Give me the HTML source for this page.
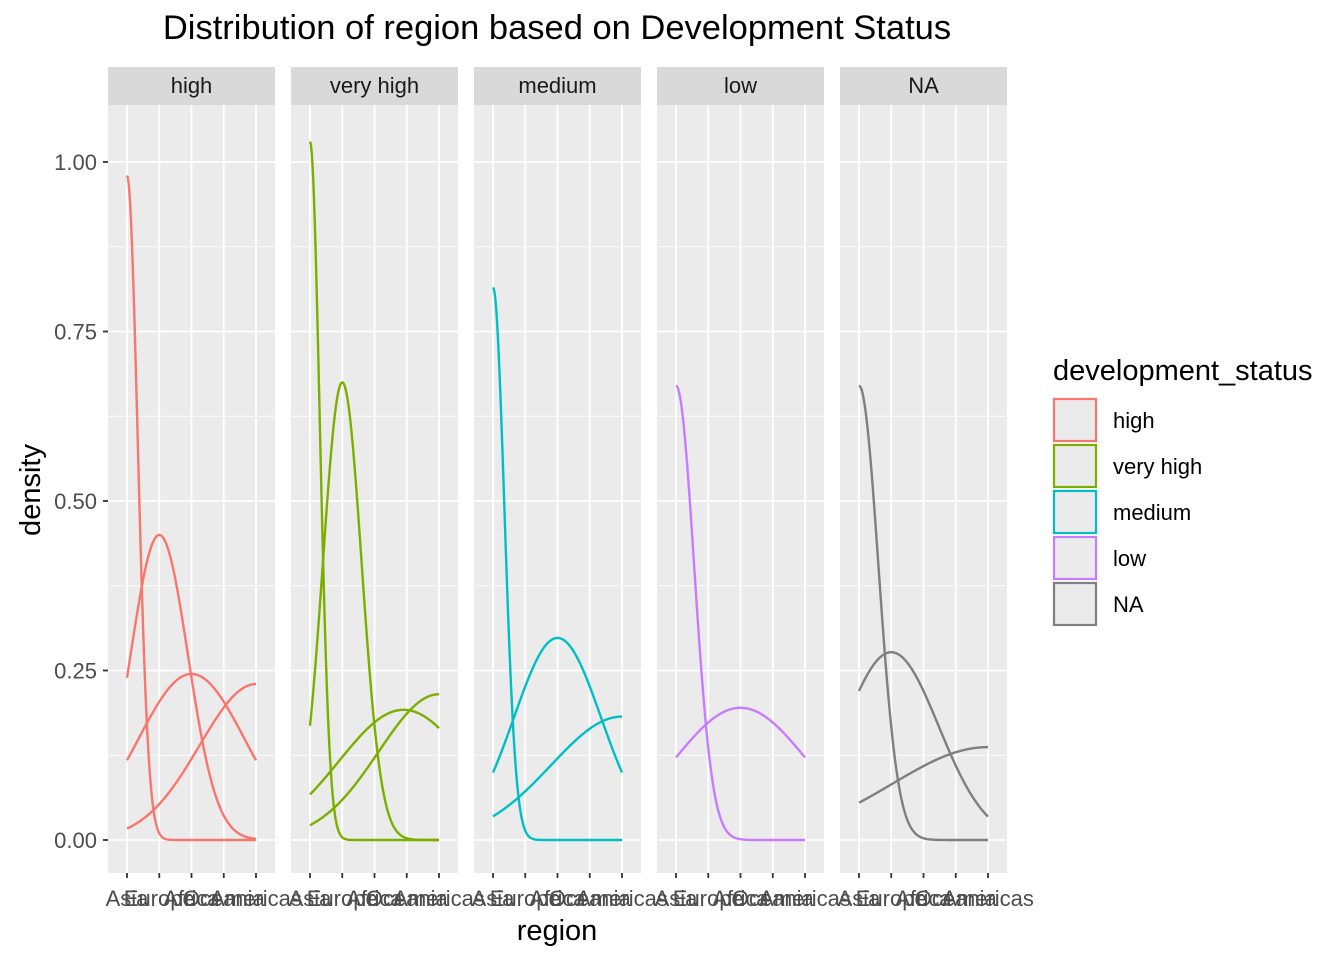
<!DOCTYPE html>
<html><head><meta charset="utf-8"><style>
body{margin:0;background:#fff;}
svg{display:block;font-family:"Liberation Sans",Arial,sans-serif;}
</style></head><body>
<svg id="chart" width="1344" height="960">
<text x="557" y="39" font-size="34.5" text-anchor="middle" fill="#000">Distribution of region based on Development Status</text>
<text x="557" y="940" font-size="29" text-anchor="middle" fill="#000">region</text>
<text transform="translate(40,490) rotate(-90)" font-size="29" text-anchor="middle" fill="#000">density</text>
<text x="1053" y="380" font-size="29" fill="#000">development_status</text>
<g id="legend"></g>
<g id="panels"></g>
<g id="yaxis"></g>
</svg>
<script>
const regions = ["Asia","Europe","Africa","Oceania","Americas"];
const facets = ["high","very high","medium","low","NA"];
const colors = ["#F8766D","#7CAE00","#00BFC4","#C77CFF","#7F7F7F"];
const yTicks = [0,0.25,0.5,0.75,1.0];
const yTickLabels = ["0.00","0.25","0.50","0.75","1.00"];
// per facet curve parameters: center (region index 1..5), spread, peak density
const curveFacet  = [0,0,0,0, 1,1,1,1, 2,2,2, 3,3, 4,4,4];
const curveCenter = [1,2,3,5, 1,2,3.9,5, 1,3,5, 1,3, 1,2,5];
const curveSpread = [0.33,0.89,1.65,1.75, 0.3,0.6,2.0,1.87, 0.35,1.35,2.2, 0.56,2.06, 0.6,1.47,2.96];
const curvePeak   = [0.98,0.45,0.245,0.23, 1.03,0.675,0.192,0.215, 0.815,0.298,0.182, 0.67,0.195, 0.67,0.277,0.137];

const NS="http://www.w3.org/2000/svg";
const P=document.getElementById('panels');
const panelLeft=[108,291,474,657,840], panelW=167, plotTop=105, plotBottom=873, stripTop=67;
const yS=v=>840-v*678;
const xS=(f,r)=>panelLeft[f]+19+(r-1)*32.25;
function mk(tag,attrs,parent){const e=document.createElementNS(NS,tag);for(const k in attrs)e.setAttribute(k,attrs[k]);parent.appendChild(e);return e;}

facets.forEach((name,f)=>{
  const g=mk('g',{},P);
  
  
  const bg=mk('rect',{x:panelLeft[f],y:plotTop,width:panelW,height:plotBottom-plotTop,fill:'#EBEBEB'},g);
  
  
  for(let v=0.125;v<1.1;v+=0.25){mk('line',{x1:panelLeft[f],x2:panelLeft[f]+panelW,y1:yS(v),y2:yS(v),stroke:'#fff','stroke-width':0.8},g);}
  yTicks.forEach(v=>mk('line',{x1:panelLeft[f],x2:panelLeft[f]+panelW,y1:yS(v),y2:yS(v),stroke:'#fff','stroke-width':1.8},g));
  regions.forEach((r,i)=>{
    mk('line',{x1:xS(f,i+1),x2:xS(f,i+1),y1:plotTop,y2:plotBottom,stroke:'#fff','stroke-width':1.8},g);
    mk('line',{x1:xS(f,i+1),x2:xS(f,i+1),y1:plotBottom,y2:plotBottom+5,stroke:'#333','stroke-width':1.8},g);
    const t=mk('text',{x:xS(f,i+1),y:906,'font-size':22,'text-anchor':'middle',fill:'#4D4D4D'},g);
    t.textContent=r;
    
    
  });
  const s=mk('rect',{x:panelLeft[f],y:stripTop,width:panelW,height:plotTop-stripTop,fill:'#D9D9D9'},g);
  
  
  const st=mk('text',{x:panelLeft[f]+panelW/2,y:93,'font-size':22,'text-anchor':'middle',fill:'#1A1A1A'},g);
  st.textContent=name;
  
  
});

curveFacet.forEach((f,c)=>{
  let d='';
  for(let k=0;k<=160;k++){
    const r=1+4*k/160;
    const v=curvePeak[c]*Math.exp(-Math.pow(r-curveCenter[c],2)/(2*curveSpread[c]*curveSpread[c]));
    d+=(k?'L':'M')+xS(f,r).toFixed(2)+','+yS(v).toFixed(2);
  }
  const p=mk('path',{d:d,fill:'none',stroke:colors[f],'stroke-width':2.4},P);
  
  
});

const Y=document.getElementById('yaxis');
yTicks.forEach((v,i)=>{
  mk('line',{x1:103,x2:108,y1:yS(v),y2:yS(v),stroke:'#333','stroke-width':1.8},Y);
  const t=mk('text',{x:97,y:yS(v)+8,'font-size':22,'text-anchor':'end',fill:'#4D4D4D'},Y);
  t.textContent=yTickLabels[i];
  
  
});

const L=document.getElementById('legend');
facets.forEach((name,i)=>{
  const yy=398+i*46;
  const r=mk('rect',{x:1054,y:yy+1,width:42,height:42,fill:'#EBEBEB',stroke:colors[i],'stroke-width':2.2},L);
  
  
  const t=mk('text',{x:1113,y:yy+30,'font-size':22,fill:'#000'},L);
  t.textContent=name;
  
  
});
</script>
</body></html>
